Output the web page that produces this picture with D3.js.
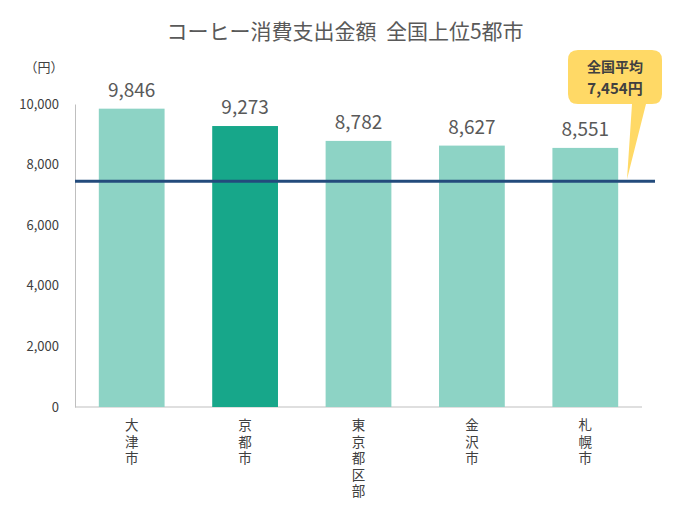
<!DOCTYPE html>
<html><head><meta charset="utf-8">
<script src="https://cdn.jsdelivr.net/npm/d3@7"></script>
<style>body{margin:0;background:#fff;font-family:"Noto Sans CJK JP","Noto Sans",sans-serif}</style>
</head><body>
<svg id="chart" width="690" height="518"></svg>
<script>
var cities = ["大津市", "京都市", "東京都区部", "金沢市", "札幌市"]
var spending = [9846, 9273, 8782, 8627, 8551]
var highlight = "京都市"
var average = 7454
var yTicks = [0, 2000, 4000, 6000, 8000, 10000]

var svg = d3.select("#chart")
var font = "'Noto Sans CJK JP','Noto Sans',sans-serif"

var x = d3.scaleBand().domain(cities).range([75, 642]).paddingInner(0.42).paddingOuter(0.21)
var y = d3.scaleLinear().domain([0, 10000]).range([407, 104])

svg.append("text").attr("x", 345).attr("y", 39).attr("text-anchor", "middle")
	.attr("font-family", font).attr("font-size", 21).attr("fill", "#595959")
	.text("コーヒー消費支出金額\u00a0\u00a0全国上位5都市")

svg.append("text").attr("x", 44).attr("y", 72).attr("text-anchor", "middle")
	.attr("font-family", font).attr("font-size", 13).attr("fill", "#404040").text("（円）")

var yAxis = svg.append("g").attr("transform", "translate(75,0)")
	.call(d3.axisLeft(y).tickValues(yTicks).tickSize(0).tickPadding(16).tickFormat(d3.format(",")))
yAxis.select(".domain").attr("stroke", "#bfbfbf")
yAxis.selectAll("text").attr("font-family", font).attr("font-size", 13).attr("fill", "#404040")

svg.append("line").attr("x1", 75).attr("x2", 642).attr("y1", y(0)).attr("y2", y(0)).attr("stroke", "#bfbfbf")

svg.selectAll("rect.bar").data(cities).enter().append("rect").attr("class", "bar")
	.attr("x", function(d){ return x(d) })
	.attr("width", x.bandwidth())
	.attr("y", function(d,i){ return y(spending[i]) })
	.attr("height", function(d,i){ return y(0) - y(spending[i]) })
	.attr("fill", function(d){ return d == highlight ? "#17a78a" : "#8dd3c5" })

svg.selectAll("text.val").data(cities).enter().append("text").attr("class", "val")
	.attr("x", function(d){ return x(d) + x.bandwidth()/2 })
	.attr("y", function(d,i){ return y(spending[i]) - 12 })
	.attr("text-anchor", "middle").attr("font-family", font).attr("font-size", 19).attr("fill", "#595959")
	.text(function(d,i){ return d3.format(",")(spending[i]) })

cities.forEach(function(c){
	var chars = c.split("")
	svg.selectAll(null).data(chars).enter().append("text")
		.attr("x", x(c) + x.bandwidth()/2)
		.attr("y", function(d,j){ return 430 + j*16.5 })
		.attr("text-anchor", "middle").attr("font-family", font).attr("font-size", 13.5).attr("fill", "#404040")
		.text(function(d){ return d })
})

svg.append("line").attr("x1", 75).attr("x2", 655).attr("y1", y(average)).attr("y2", y(average))
	.attr("stroke", "#234b7c").attr("stroke-width", 3)

// callout
var cy = y(average)
svg.append("path")
	.attr("d", "M578,50 H652 Q662,50 662,60 V94 Q662,104 652,104 H646 L627," + (cy-2) + " L632,104 H578 Q568,104 568,94 V60 Q568,50 578,50 Z")
	.attr("fill", "#ffd966")
svg.append("text").attr("x", 615).attr("y", 72).attr("text-anchor", "middle")
	.attr("font-family", font).attr("font-size", 14).attr("font-weight", "bold").attr("fill", "#404040").text("全国平均")
svg.append("text").attr("x", 615).attr("y", 94).attr("text-anchor", "middle")
	.attr("font-family", font).attr("font-size", 15).attr("font-weight", "bold").attr("fill", "#404040")
	.text(d3.format(",")(average) + "円")
</script>
</body></html>
